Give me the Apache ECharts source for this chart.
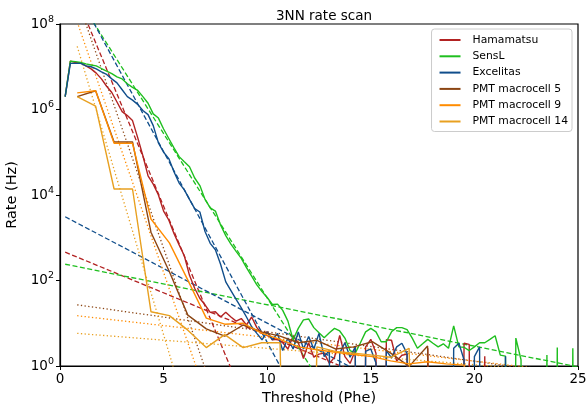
<!DOCTYPE html>
<html>
<head>
<meta charset="utf-8">
<script src="https://cdn.jsdelivr.net/npm/echarts@6/dist/echarts.min.js"></script>
<style>html,body{margin:0;padding:0;background:#fff}#c{width:587px;height:409px}</style>
</head>
<body>
<div id="c"></div>
<script>
// ---------- data ----------
const sipmThreshold = [0.25,0.5,0.75,1,1.25,1.5,1.75,2,2.25,2.5,2.75,3,3.25,3.5,3.75,4,4.25,4.5,4.75,5,
 5.25,5.5,5.75,6,6.25,6.5,6.75,7,7.25,7.5,7.75,8,8.25,8.5,8.75,9,9.25,9.5,9.75,10,
 10.25,10.5,10.75,11,11.25,11.5,11.75,12,12.25,12.5,12.75,13,13.25,13.5,13.75,14,14.25,14.5,14.75,15,
 15.25,15.5,15.75,16,16.25,16.5,16.75,17,17.25,17.5,17.75,18,18.25,18.5,18.75,19,19.25,19.5,19.75,20,
 20.25,20.5,20.75,21,21.25,21.5,21.75,22,22.25,22.5,22.75,23,23.25,23.5,23.75,24,24.25,24.5,24.75,25];

const hamamatsuRate = [2.0e6,1.35e7,1.26e7,1.23e7,1.05e7,8.9e6,7.1e6,5.2e6,3.5e6,2.5e6,1.5e6,8.9e5,7.2e5,5.5e5,2.2e5,8.3e4,2.8e4,1.8e4,1.0e4,4.2e3,
 2.6e3,1.26e3,680,380,132,66,38,27,18,18.6,14,18,14,11.2,12.9,9.1,14,7.9,5.8,6.3,
 4.1,4.2,3.5,2.5,5.0,3.5,1.5,3.5,1.6,1.9,2.0,1.15,1.6,5.2,1.66,1.15,2.3,0,2.8,4.2,
 2.0,0,4.1,4.0,1.3,1.78,1.9,0,0,0,2.6,0,0,0,0,0,0,3.4,3.2,0,
 0,1.7,0,0,0,0,0,0,0,0,0,0,0,0,0,0,0,0,0,0];

const senslRate = [2.0e6,1.35e7,1.32e7,1.26e7,1.17e7,1.1e7,1.05e7,9.1e6,7.9e6,6.9e6,5.8e6,5.2e6,4.0e6,3.3e6,2.8e6,2.0e6,1.4e6,7.9e5,6.3e5,3.5e5,
 2.1e5,1.26e5,7.9e4,6.0e4,4.6e4,2.5e4,1.66e4,7.9e3,5.0e3,4.2e3,2.0e3,1.12e3,710,480,330,200,126,79,55,40,
 27.5,28,20,11.2,4.1,7.6,12,12.6,7.9,6.0,4.6,6.0,7.6,6.6,4.5,2.3,2.0,3.5,6.3,7.6,
 6.3,3.7,3.7,6.3,7.9,7.9,7.1,4.5,2.6,3.3,4.2,3.4,2.8,3.3,2.6,8.7,2.8,2.75,2.3,2.8,
 3.5,3.5,4.2,5.1,1.8,1.7,0,4.5,1.4,0,0,0,0,1.8,0,2.7,0,0,2.6,0];

const excelitasRate = [2.0e6,1.2e7,1.2e7,1.2e7,1.05e7,1.0e7,8.9e6,7.6e6,6.6e6,5.2e6,4.2e6,2.9e6,2.0e6,1.66e6,1.32e6,9.5e5,7.6e5,4.2e5,1.66e5,1.0e5,
 7.1e4,3.5e4,1.9e4,1.32e4,7.9e3,4.8e3,4.0e3,1.4e3,740,525,240,93,58,36,23,14,8.3,5.8,4.1,6.3,
 4.1,5.8,2.3,4.5,2.5,6.3,2.5,4.9,2.5,5.8,1.66,2.3,0,2.0,3.5,1.6,2.8,0,2.2,2.5,
 1.17,0,2.3,1.55,2.8,3.4,1.95,0,0,0,0,0,0,0,0,2.6,3.4,1.4,0,1.66,
 2.8,0,0,0,0,1.7,0,0,0,0,0,0,0,0,0,0,0,0,0,0];

const pmtThreshold = [0.83,1.72,2.61,3.50,4.39,5.28,6.17,7.06,7.95,8.84,9.73,10.62,11.51,12.40,
 13.29,14.18,15.07,15.96,16.85,17.74,18.63,19.52,20.41,21.30,22.19,23.08,23.97,24.86];

const pmt5Rate  = [2.0e6,2.75e6,1.74e5,1.74e5,1.35e3,160,15.5,7.4,5.0,9.1,6.3,5.0,3.5,4.0,
 2.5,2.8,3.7,2.0,0.98,2.95,0,0,0,0,0,0,0,0];
const pmt9Rate  = [2.45e6,2.75e6,1.62e5,1.62e5,2.75e3,760,102,13.2,9.5,10,5.9,4.2,2.8,2.4,
 2.1,1.86,1.66,1.32,1.12,1.26,1.12,1.05,0,0,0,0,0,0];
const pmt14Rate = [2.0e6,1.2e6,1.38e4,1.38e4,18.6,15.1,6.9,2.7,5.4,2.7,3.5,3.5,0,2.8,
 2.2,2.0,1.8,1.6,2.6,0,0,0,0,0,0,0,0,0];

// exponential fits: [threshold, rate] end points (straight lines on the log axis)
const hamamatsuFitHigh = [[0.25,1.9e9],[9.06,0.1]];
const hamamatsuFitLow  = [[0.25,460],[25,5.1e-3]];
const senslFitHigh     = [[0.25,1.23e9],[13.37,0.1]];
const senslFitLow      = [[0.25,240],[25,0.95]];
const excelitasFitHigh = [[0.25,1.8e9],[11.74,0.1]];
const excelitasFitLow  = [[0.25,3.1e3],[25,1.5e-3]];
const pmt5FitHigh  = [[0.83,3.9e8],[7.68,0.1]];
const pmt5FitLow   = [[0.83,27],[24.86,0.6]];
const pmt9FitHigh  = [[0.83,1.12e8],[7.27,0.1]];
const pmt9FitLow   = [[0.83,15],[24.86,0.7]];
const pmt14FitHigh = [[0.83,3.0e7],[6.07,0.1]];
const pmt14FitLow  = [[0.83,5.8],[24.86,0.7]];

const seriesNames = ['Hamamatsu','SensL','Excelitas','PMT macrocell 5','PMT macrocell 9','PMT macrocell 14'];
const colors = ['#b22222','#1fbf1f','#104e8b','#8b4513','#ff8c00','#e8a020'];
const yTicks = [1, 1e2, 1e4, 1e6, 1e8];
const xTicks = [0, 5, 10, 15, 20, 25];

// ---------- build ----------
const FLOOR = 1e-20; // zero rates are clipped below the axis like on a log plot
function pairs(xs, ys){ return xs.map((x,i)=>[x, ys[i] > 0 ? ys[i] : FLOOR]); }
const FONT = 'DejaVu Sans';

const series = [];
const measured = [
  [hamamatsuRate, sipmThreshold], [senslRate, sipmThreshold], [excelitasRate, sipmThreshold],
  [pmt5Rate, pmtThreshold], [pmt9Rate, pmtThreshold], [pmt14Rate, pmtThreshold]
];
const fits = [
  [hamamatsuFitHigh, hamamatsuFitLow, 'dashed'],
  [senslFitHigh, senslFitLow, 'dashed'],
  [excelitasFitHigh, excelitasFitLow, 'dashed'],
  [pmt5FitHigh, pmt5FitLow, 'dotted'],
  [pmt9FitHigh, pmt9FitLow, 'dotted'],
  [pmt14FitHigh, pmt14FitLow, 'dotted']
];
measured.forEach((m, i) => {
  series.push({
    name: seriesNames[i], type: 'line', data: pairs(m[1], m[0]),
    symbol: 'none', showSymbol: false, clip: true, z: 3,
    lineStyle: { color: colors[i], width: 1.4 }, itemStyle: { color: colors[i] },
    emphasis: { disabled: true }, animation: false
  });
});
fits.forEach((f, i) => {
  [f[0], f[1]].forEach(d => {
    series.push({
      name: seriesNames[i] + ' fit', type: 'line', data: d,
      symbol: 'none', showSymbol: false, clip: true, z: 2,
      lineStyle: { color: colors[i], width: 1.3, type: f[2] === 'dashed' ? [5, 2.5] : [1.3, 2.4] },
      emphasis: { disabled: true }, animation: false
    });
  });
});

const chart = echarts.init(document.getElementById('c'), null, { renderer: 'canvas' });
chart.setOption({
  animation: false,
  backgroundColor: '#fff',
  title: { text: '3NN rate scan', left: 319, top: 4, textAlign: 'center',
    textStyle: { fontFamily: FONT, fontSize: 13.5, fontWeight: 'normal', color: '#000' } },
  grid: { left: 60, right: 9, top: 24, bottom: 43, containLabel: false, outerBoundsMode: 'none',
    show: true, borderColor: '#000', borderWidth: 1.2, backgroundColor: 'transparent' },
  legend: {
    data: seriesNames, orient: 'vertical', right: 15, top: 29,
    padding: [5, 4, 4, 8], itemGap: 4.3, itemWidth: 21, itemHeight: 2, icon: 'rect',
    backgroundColor: '#fff', borderColor: '#cccccc', borderWidth: 1, borderRadius: 3,
    textStyle: { fontFamily: FONT, fontSize: 10.8, lineHeight: 12, color: '#000', padding: [0, 0, 0, 7] }
  },
  xAxis: {
    type: 'value', min: xTicks[0], max: xTicks[xTicks.length - 1], interval: 5,
    name: 'Threshold (Phe)', nameLocation: 'middle', nameGap: 25,
    nameTextStyle: { fontFamily: FONT, fontSize: 14.5, color: '#000' },
    axisLine: { show: true, lineStyle: { color: '#000', width: 1.2 } },
    axisTick: { show: true, length: 4, lineStyle: { color: '#000' } },
    axisLabel: { fontFamily: FONT, fontSize: 13.5, color: '#000', margin: 6 },
    splitLine: { show: false }
  },
  yAxis: {
    type: 'log', logBase: 10, min: yTicks[0], max: yTicks[yTicks.length - 1], interval: 2,
    name: 'Rate (Hz)', nameLocation: 'middle', nameGap: 37, nameRotate: 90,
    nameTextStyle: { fontFamily: FONT, fontSize: 14.5, color: '#000' },
    axisLine: { show: true, lineStyle: { color: '#000', width: 1.2 } },
    axisTick: { show: true, length: 4, lineStyle: { color: '#000' } },
    axisLabel: {
      fontFamily: FONT, color: '#000', margin: 6,
      formatter: v => '{b|10}{s|' + Math.round(Math.log10(v)) + '}',
      rich: { b: { fontFamily: FONT, fontSize: 13.5, color: '#000' },
              s: { fontFamily: FONT, fontSize: 9.5, color: '#000', padding: [0, 0, 9, 0] } }
    },
    splitLine: { show: false }
  },
  series: series
});
</script>
</body>
</html>
